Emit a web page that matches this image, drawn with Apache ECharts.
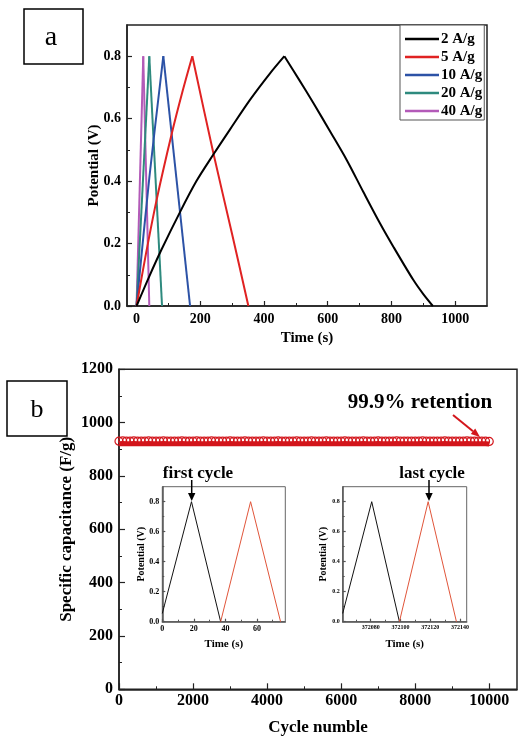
<!DOCTYPE html>
<html>
<head>
<meta charset="utf-8">
<script src="https://cdn.jsdelivr.net/npm/echarts@6/dist/echarts.min.js"></script>
<style>
html, body { margin: 0; padding: 0; background: #fff; }
#chart { width: 518px; height: 747px; }
</style>
</head>
<body>
<div id="chart"></div>
<script>
// (a) galvanostatic charge/discharge at several current densities
var rateNames = ['2 A/g', '5 A/g', '10 A/g', '20 A/g', '40 A/g'];
var rateColors = ['#000000', '#e02222', '#2c52a6', '#2e8a7e', '#b35ab8'];
var time2 = [0, 40, 78, 136, 188, 241, 293, 356, 419, 464, 510, 555, 610, 660, 712, 764, 806, 869, 900, 930];
var volt2 = [0, 0.095, 0.18, 0.30, 0.40, 0.485, 0.565, 0.66, 0.745, 0.80, 0.725, 0.65, 0.555, 0.467, 0.365, 0.265, 0.19, 0.083, 0.038, 0];
var time5 = [0, 30, 63, 110, 145, 175, 241, 300, 351];
var volt5 = [0, 0.17, 0.34, 0.55, 0.69, 0.80, 0.49, 0.23, 0];
var time10 = [0, 40, 84, 168];
var volt10 = [0, 0.41, 0.80, 0];
var time20 = [0, 40, 80];
var volt20 = [0, 0.80, 0];
var time40 = [0, 21, 40];
var volt40 = [0, 0.80, 0];

// (b) cycling stability
var cycleNo = [
    0, 100, 200, 300, 400, 500, 600, 700, 800, 900,
    1000, 1100, 1200, 1300, 1400, 1500, 1600, 1700, 1800, 1900,
    2000, 2100, 2200, 2300, 2400, 2500, 2600, 2700, 2800, 2900,
    3000, 3100, 3200, 3300, 3400, 3500, 3600, 3700, 3800, 3900,
    4000, 4100, 4200, 4300, 4400, 4500, 4600, 4700, 4800, 4900,
    5000, 5100, 5200, 5300, 5400, 5500, 5600, 5700, 5800, 5900,
    6000, 6100, 6200, 6300, 6400, 6500, 6600, 6700, 6800, 6900,
    7000, 7100, 7200, 7300, 7400, 7500, 7600, 7700, 7800, 7900,
    8000, 8100, 8200, 8300, 8400, 8500, 8600, 8700, 8800, 8900,
    9000, 9100, 9200, 9300, 9400, 9500, 9600, 9700, 9800, 9900,
    10000
];
var capacitance = [
    921, 922, 921, 921, 922, 921, 921, 921, 922, 921,
    921, 921, 922, 921, 921, 921, 921, 922, 921, 921,
    921, 922, 921, 921, 921, 922, 921, 921, 921, 921,
    922, 921, 921, 921, 922, 921, 921, 921, 921, 922,
    921, 921, 921, 922, 921, 921, 921, 921, 922, 921,
    921, 921, 922, 921, 921, 921, 922, 921, 921, 921,
    921, 922, 921, 921, 921, 921, 922, 921, 921, 921,
    922, 921, 921, 921, 921, 922, 921, 921, 921, 921,
    921, 921, 922, 921, 921, 921, 921, 921, 922, 921,
    921, 921, 921, 921, 922, 921, 921, 921, 921, 921,
    920
];

// insets: first and last cycle
var firstTimeA = [0, 18.5, 37];
var firstVoltA = [0.055, 0.80, 0];
var firstTimeB = [37, 56, 75];
var firstVoltB = [0, 0.80, 0];
var lastTimeA = [372061.2, 372080.7, 372099.3];
var lastVoltA = [0.055, 0.80, 0];
var lastTimeB = [372099.3, 372118.6, 372137.6];
var lastVoltB = [0, 0.80, 0];

var FONT = 'Liberation Serif';

function pairs(xs, ys) {
    return xs.map(function (x, i) { return [x, ys[i]]; });
}

function mainAxis(grid, pos, min, max, ticks, len, size, fmt, color) {
    return {
        type: 'value', gridIndex: grid, position: pos, min: min, max: max,
        splitLine: { show: false },
        axisLine: { show: true, onZero: false, lineStyle: { color: color, width: 1.5 } },
        axisTick: { inside: true, length: len, customValues: ticks, lineStyle: { color: color, width: 1.2 } },
        axisLabel: {
            customValues: ticks, formatter: fmt, color: '#000',
            fontFamily: FONT, fontWeight: 'bold', fontSize: size, margin: len > 4 ? 6 : 3
        },
        nameLocation: 'middle',
        nameMoveOverlap: false,
        nameTextStyle: { color: '#000', fontFamily: FONT, fontWeight: 'bold' }
    };
}

function minorAxis(grid, pos, min, max, ticks, len, color) {
    return {
        type: 'value', gridIndex: grid, position: pos, min: min, max: max,
        splitLine: { show: false },
        axisLine: { show: false, onZero: false },
        axisLabel: { show: false },
        axisTick: { inside: true, length: len, customValues: ticks, lineStyle: { color: color, width: 1 } }
    };
}

var fmt1 = function (v) { return v.toFixed(1); };
var fmt0 = function (v) { return String(v); };

// x axes
var xA = mainAxis(0, 'bottom', -30, 1100, [0, 200, 400, 600, 800, 1000], 5, 14, fmt0, '#222');
xA.name = 'Time (s)'; xA.nameGap = 25; xA.nameTextStyle.fontSize = 15;
var xB = mainAxis(1, 'bottom', 0, 10750, [0, 2000, 4000, 6000, 8000, 10000], 6, 16, fmt0, '#222');
xB.name = 'Cycle numble'; xB.nameGap = 30; xB.nameTextStyle.fontSize = 17; xB.axisLabel.margin = 4;
var xI1 = mainAxis(2, 'bottom', 0, 78, [0, 20, 40, 60], 3, 8, fmt0, '#555');
xI1.name = 'Time (s)'; xI1.nameGap = 17; xI1.nameTextStyle.fontSize = 11;
var xI2 = mainAxis(3, 'bottom', 372061.2, 372144.5, [372080, 372100, 372120, 372140], 3, 6, fmt0, '#555');
xI2.name = 'Time (s)'; xI2.nameGap = 17; xI2.nameTextStyle.fontSize = 11;

// y axes
var yA = mainAxis(0, 'left', 0, 0.9, [0, 0.2, 0.4, 0.6, 0.8], 5, 14, fmt1, '#222');
yA.name = 'Potential (V)'; yA.nameGap = 25; yA.nameTextStyle.fontSize = 15;
var yB = mainAxis(1, 'left', 0, 1200, [0, 200, 400, 600, 800, 1000, 1200], 6, 16, fmt0, '#222');
yB.name = 'Specific capacitance (F/g)'; yB.nameGap = 44; yB.nameTextStyle.fontSize = 17;
var yI1 = mainAxis(2, 'left', 0, 0.9, [0, 0.2, 0.4, 0.6, 0.8], 3, 8, fmt1, '#555');
yI1.name = 'Potential (V)'; yI1.nameGap = 16; yI1.nameTextStyle.fontSize = 10;
var yI2 = mainAxis(3, 'left', 0, 0.9, [0, 0.2, 0.4, 0.6, 0.8], 3, 6, fmt1, '#555');
yI2.name = 'Potential (V)'; yI2.nameGap = 14; yI2.nameTextStyle.fontSize = 10;

var chart = echarts.init(document.getElementById('chart'));

// each curve is drawn as a charge and a discharge branch, split at its peak
var lineSeries = [];
[[time2, volt2], [time5, volt5], [time10, volt10], [time20, volt20], [time40, volt40]].forEach(function (d, i) {
    var pts = pairs(d[0], d[1]);
    var peak = d[1].indexOf(Math.max.apply(null, d[1]));
    [pts.slice(0, peak + 1), pts.slice(peak)].forEach(function (branch) {
        lineSeries.push({
            name: rateNames[i], type: 'line', xAxisIndex: 0, yAxisIndex: 0,
            data: branch, showSymbol: false, smooth: 0.3,
            lineStyle: { color: rateColors[i], width: 2 }, itemStyle: { color: rateColors[i] },
            z: 10 - i
        });
    });
});

function insetSeries(name, xs, ys, color, idx) {
    return {
        name: name, type: 'line', xAxisIndex: idx, yAxisIndex: idx,
        data: pairs(xs, ys), showSymbol: false,
        lineStyle: { color: color, width: 1 }
    };
}

option = {
    backgroundColor: '#fff',
    animation: false,
    grid: [
        { left: 127, right: 31, top: 25, bottom: 441, show: true, borderColor: '#222', borderWidth: 1.5 },
        { left: 119, right: 1, top: 369.3, bottom: 57.7, show: true, borderColor: '#222', borderWidth: 1.5 },
        { left: 162.3, right: 232.7, top: 486.7, bottom: 125.3, show: true, borderColor: '#666', borderWidth: 1 },
        { left: 342.7, right: 51.3, top: 486.7, bottom: 125.3, show: true, borderColor: '#666', borderWidth: 1 }
    ],
    legend: {
        data: rateNames,
        orient: 'vertical',
        left: 400, top: 25,
        padding: [5, 2, 0, 5],
        itemGap: 0,
        itemWidth: 34, itemHeight: 2.5,
        icon: 'rect',
        borderColor: '#555', borderWidth: 1,
        backgroundColor: '#fff',
        textStyle: { color: '#000', fontFamily: FONT, fontWeight: 'bold', fontSize: 15, lineHeight: 18, padding: [0, 0, 0, -3] }
    },
    xAxis: [
        xA, minorAxis(0, 'bottom', -30, 1100, [100, 300, 500, 700, 900], 3, '#222'),
        xB, minorAxis(1, 'bottom', 0, 10750, [1000, 3000, 5000, 7000, 9000], 3, '#222'),
        xI1, minorAxis(2, 'bottom', 0, 78, [10, 30, 50, 70], 2, '#555'),
        xI2, minorAxis(3, 'bottom', 372061.2, 372144.5, [372070, 372090, 372110, 372130], 2, '#555')
    ],
    yAxis: [
        yA, minorAxis(0, 'left', 0, 0.9, [0.1, 0.3, 0.5, 0.7], 3, '#222'),
        yB, minorAxis(1, 'left', 0, 1200, [100, 300, 500, 700, 900, 1100], 3, '#222'),
        yI1, minorAxis(2, 'left', 0, 0.9, [0.1, 0.3, 0.5, 0.7], 2, '#555'),
        yI2, minorAxis(3, 'left', 0, 0.9, [0.1, 0.3, 0.5, 0.7], 2, '#555')
    ],
    series: lineSeries.concat([
        {
            name: 'Capacitance', type: 'line', xAxisIndex: 2, yAxisIndex: 2,
            data: pairs(cycleNo, capacitance),
            symbol: 'circle', symbolSize: 8, symbolOffset: [0, -2.5], showAllSymbol: true,
            lineStyle: { color: '#d3161c', width: 5 },
            itemStyle: { color: 'rgba(255,255,255,0)', borderColor: '#d3161c', borderWidth: 1.2 }
        },
        insetSeries('first A', firstTimeA, firstVoltA, '#111', 4),
        insetSeries('first B', firstTimeB, firstVoltB, '#e0553a', 4),
        insetSeries('last A', lastTimeA, lastVoltA, '#111', 6),
        insetSeries('last B', lastTimeB, lastVoltB, '#e0553a', 6)
    ]),
    graphic: [
        { type: 'rect', shape: { x: 24, y: 9, width: 59, height: 55 }, style: { fill: '#fff', stroke: '#000', lineWidth: 1.5 } },
        { type: 'text', x: 51, y: 38, style: { text: 'a', font: '28px "Liberation Serif"', fill: '#000', align: 'center', verticalAlign: 'middle' } },
        { type: 'rect', shape: { x: 7, y: 381, width: 60, height: 55 }, style: { fill: '#fff', stroke: '#000', lineWidth: 1.5 } },
        { type: 'text', x: 37, y: 410, style: { text: 'b', font: '26px "Liberation Serif"', fill: '#000', align: 'center', verticalAlign: 'middle' } },
        { type: 'text', x: 420, y: 403, style: { text: '99.9% retention', font: 'bold 21px "Liberation Serif"', fill: '#000', align: 'center', verticalAlign: 'middle' } },
        { type: 'line', shape: { x1: 453, y1: 415, x2: 473, y2: 431.3 }, style: { stroke: '#d3161c', lineWidth: 2 } },
        { type: 'polygon', shape: { points: [[480, 437], [470.8, 434], [475.2, 428.6]] }, style: { fill: '#d3161c' } },
        { type: 'text', x: 198, y: 474, style: { text: 'first cycle', font: 'bold 17px "Liberation Serif"', fill: '#000', align: 'center', verticalAlign: 'middle' } },
        { type: 'line', shape: { x1: 191.7, y1: 480, x2: 191.7, y2: 494 }, style: { stroke: '#000', lineWidth: 1.5 } },
        { type: 'polygon', shape: { points: [[188, 493], [195.4, 493], [191.7, 501]] }, style: { fill: '#000' } },
        { type: 'text', x: 432, y: 474, style: { text: 'last cycle', font: 'bold 17px "Liberation Serif"', fill: '#000', align: 'center', verticalAlign: 'middle' } },
        { type: 'line', shape: { x1: 429, y1: 480, x2: 429, y2: 494 }, style: { stroke: '#000', lineWidth: 1.5 } },
        { type: 'polygon', shape: { points: [[425.3, 493], [432.7, 493], [429, 501]] }, style: { fill: '#000' } }
    ]
};

chart.setOption(option);
</script>
</body>
</html>
